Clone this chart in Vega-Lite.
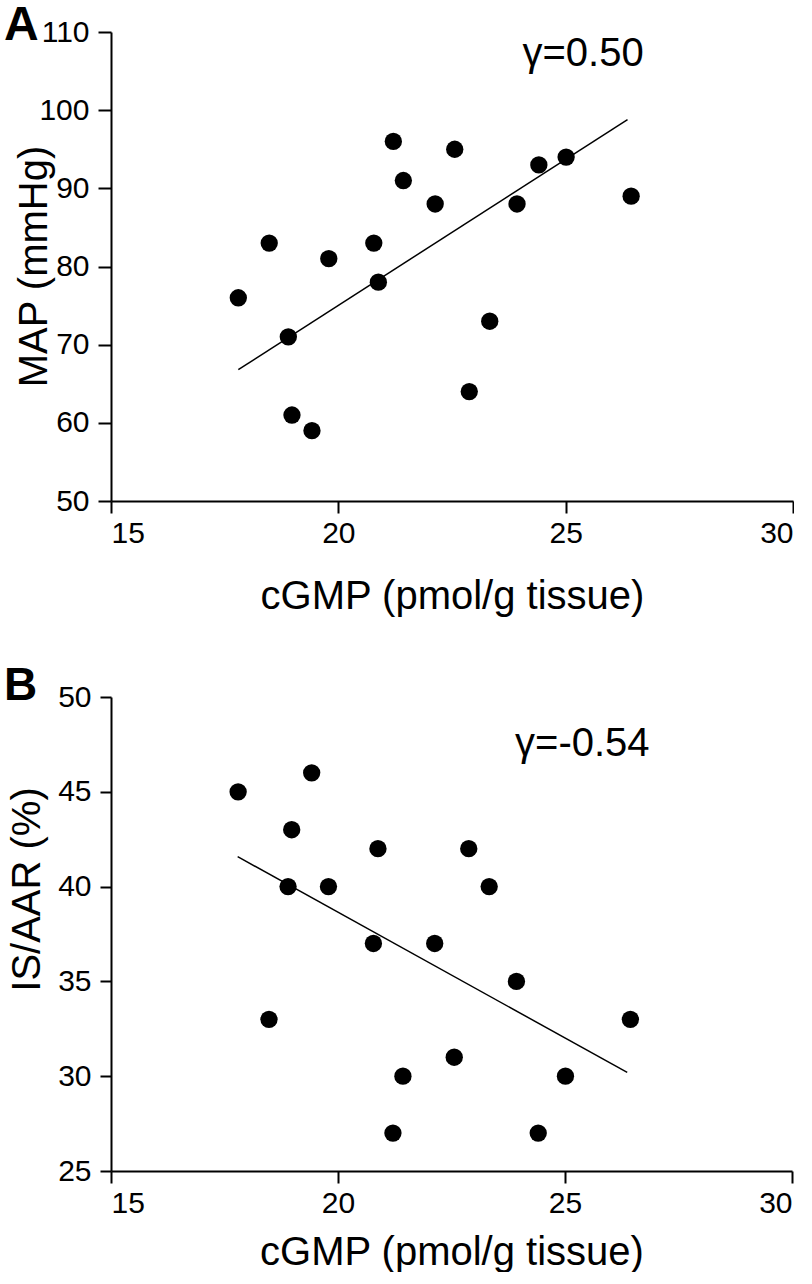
{
  "$schema": "https://vega.github.io/schema/vega-lite/v6.json",
  "padding": {"left": 4, "top": 2, "right": 0, "bottom": 0},
  "background": "white",
  "spacing": 47,
  "config": {
    "font": "Liberation Sans",
    "view": {"stroke": null},
    "axis": {
      "domainColor": "black", "domainWidth": 2,
      "tickColor": "black", "tickWidth": 2, "tickSize": 12,
      "labelColor": "black", "labelFont": "Liberation Sans", "labelFontSize": 30,
      "titleFont": "Liberation Sans", "titleColor": "black", "titleFontWeight": "normal",
      "grid": false
    },
    "title": {"font": "Liberation Sans", "fontSize": 48, "fontWeight": "bold", "anchor": "start", "frame": "bounds", "color": "black"}
  },
  "datasets": {
    "pts": [
      {"cgmp": 17.8, "map": 76, "isaar": 45},
      {"cgmp": 18.48, "map": 83, "isaar": 33},
      {"cgmp": 18.9, "map": 71, "isaar": 40},
      {"cgmp": 18.98, "map": 61, "isaar": 43},
      {"cgmp": 19.42, "map": 59, "isaar": 46},
      {"cgmp": 19.79, "map": 81, "isaar": 40},
      {"cgmp": 20.78, "map": 83, "isaar": 37},
      {"cgmp": 20.88, "map": 78, "isaar": 42},
      {"cgmp": 21.21, "map": 96, "isaar": 27},
      {"cgmp": 21.43, "map": 91, "isaar": 30},
      {"cgmp": 22.13, "map": 88, "isaar": 37},
      {"cgmp": 22.56, "map": 95, "isaar": 31},
      {"cgmp": 22.88, "map": 64, "isaar": 42},
      {"cgmp": 23.33, "map": 73, "isaar": 40},
      {"cgmp": 23.93, "map": 88, "isaar": 35},
      {"cgmp": 24.41, "map": 93, "isaar": 27},
      {"cgmp": 25.01, "map": 94, "isaar": 30},
      {"cgmp": 26.44, "map": 89, "isaar": 33}
    ],
    "fitA": [{"cgmp": 17.8, "map": 66.8}, {"cgmp": 26.36, "map": 98.8}],
    "fitB": [{"cgmp": 17.79, "isaar": 41.58}, {"cgmp": 26.37, "isaar": 30.2}],
    "labA": [{"cgmp": 24.05, "map": 105.6, "label": "γ=0.50"}],
    "labB": [{"cgmp": 23.9, "isaar": 46.9, "label": "γ=-0.54"}]
  },
  "vconcat": [
    {
      "title": {"text": "A", "offset": -33, "dx": -10},
      "width": 682,
      "height": 469,
      "encoding": {
        "x": {"field": "cgmp", "type": "quantitative",
          "scale": {"domain": [15, 30], "nice": false, "zero": false},
          "axis": {"values": [15, 20, 25, 30], "title": "cGMP (pmol/g tissue)", "titleFontSize": 40, "titlePadding": 28, "labelPadding": 5}},
        "y": {"field": "map", "type": "quantitative",
          "scale": {"domain": [50, 110], "nice": false, "zero": false},
          "axis": {"values": [50, 60, 70, 80, 90, 100, 110], "title": "MAP (mmHg)", "titleFontSize": 40, "titleX": -57, "titleY": 234, "titleAngle": -90, "titleAlign": "center", "titleBaseline": "bottom", "labelPadding": 9, "tickSize": 13}}
      },
      "layer": [
        {"data": {"name": "pts"}, "mark": {"type": "circle", "size": 300, "color": "black", "opacity": 1}},
        {"data": {"name": "fitA"}, "mark": {"type": "line", "color": "black", "strokeWidth": 1.5}},
        {"data": {"name": "labA"}, "mark": {"type": "text", "fontSize": 40, "align": "left", "baseline": "alphabetic", "color": "black", "font": "Liberation Sans"},
          "encoding": {"text": {"field": "label", "type": "nominal"}}}
      ]
    },
    {
      "title": {"text": "B", "offset": -28, "fontSize": 46, "dx": -3},
      "width": 681,
      "height": 474,
      "encoding": {
        "x": {"field": "cgmp", "type": "quantitative",
          "scale": {"domain": [15, 30], "nice": false, "zero": false},
          "axis": {"values": [15, 20, 25, 30], "title": "cGMP (pmol/g tissue)", "titleFontSize": 40, "titlePadding": 14, "labelPadding": 5}},
        "y": {"field": "isaar", "type": "quantitative",
          "scale": {"domain": [25, 50], "nice": false, "zero": false},
          "axis": {"values": [25, 30, 35, 40, 45, 50], "title": "IS/AAR (%)", "titleFontSize": 40, "titleX": -64, "titleY": 192, "titleAngle": -90, "titleAlign": "center", "titleBaseline": "bottom", "labelPadding": 9, "tickSize": 11}}
      },
      "layer": [
        {"data": {"name": "pts"}, "mark": {"type": "circle", "size": 300, "color": "black", "opacity": 1}},
        {"data": {"name": "fitB"}, "mark": {"type": "line", "color": "black", "strokeWidth": 1.5}},
        {"data": {"name": "labB"}, "mark": {"type": "text", "fontSize": 40, "align": "left", "baseline": "alphabetic", "color": "black", "font": "Liberation Sans"},
          "encoding": {"text": {"field": "label", "type": "nominal"}}}
      ]
    }
  ]
}
